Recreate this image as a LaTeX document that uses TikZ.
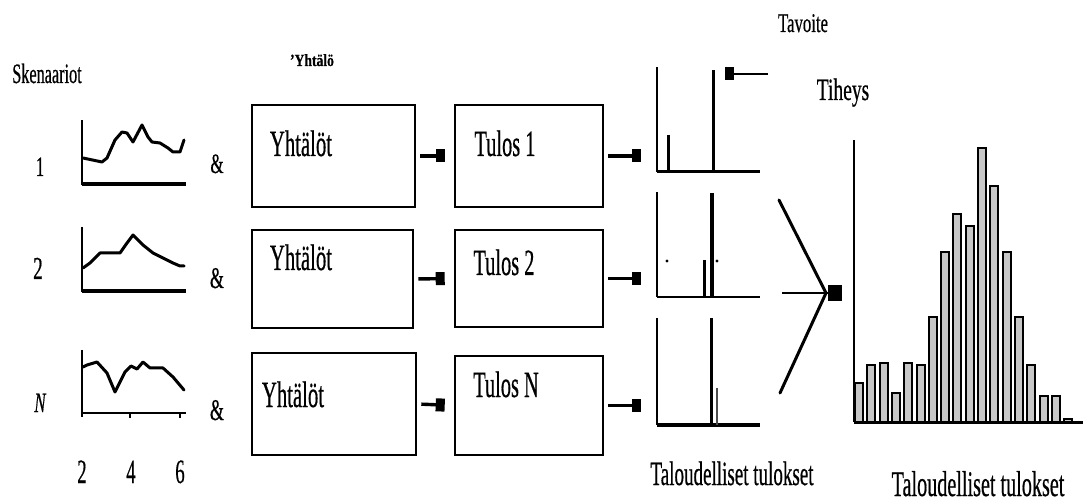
\documentclass[tikz,border=0pt]{standalone}
\usepackage{fontspec}
\setmainfont[FakeBold=0.7]{Liberation Serif}
\usepackage{graphicx}
\usetikzlibrary{arrows.meta}
% condensed text: horizontal squeeze of the serif face
\newcommand\cnd[2][0.58]{\scalebox{#1}[1]{#2}}

\begin{document}
\begin{tikzpicture}[x=1pt,y=-1pt,
  txt/.style={inner sep=0pt,anchor=base,font=\fontsize{#1}{#1}\selectfont},
  frame/.style={draw,line width=2.6pt,inner sep=0pt},
  axis/.style={line width=1.6pt},
  baseaxis/.style={line width=3.5pt},
  curve/.style={line width=3pt,line join=round,line cap=round},
  spike/.style={line width=3pt},
  blob/.style={line width=3.4pt,-{Rectangle[length=9pt 0 0,width=13pt 0 0]}},
  histbar/.style={draw,line width=2pt,fill=black!22}]

\useasboundingbox (0,0) rectangle (1084,502);

% ---- scenario labels
\node[txt=28] (sk) at (47,83) {\cnd[0.58]{Skenaariot}};
\node[txt=28] (n1) at (40,176) {\cnd[0.6]{1}};
\node[txt=32] (n2) at (38,279) {\cnd[0.6]{2}};
\node[txt=28] (nN) at (40,412) {\cnd[0.6]{\itshape N}};

% ---- scenario curves
\draw[axis] (82,120) -- (82,185);
\draw[baseaxis] (82,184) -- (186,184);
\draw[curve] (83,158) -- (102,162) -- (107,158) -- (115,140) -- (122,132) -- (127,133)
  -- (133,142) -- (142,125) -- (148,137) -- (152,142) -- (160,143) -- (168,148)
  -- (173,152) -- (180,152) -- (184,140);

\draw[axis] (82,227) -- (82,292);
\draw[baseaxis] (82,291) -- (186,291);
\draw[curve] (83,268) -- (90,263) -- (100,253) -- (107,253) -- (120,253) -- (127,243)
  -- (133,235) -- (143,245) -- (153,253) -- (163,258) -- (173,263) -- (180,266) -- (184,266);

\draw[axis] (82,350) -- (82,417);
\draw[line width=2.2pt] (82,413) -- (186,413);
\draw[line width=1.8pt] (130,413) -- (130,418) (180,413) -- (180,418);
\draw[curve] (83,367) -- (87,365) -- (97,362) -- (107,373) -- (115,392) -- (125,372)
  -- (131,366) -- (137,369) -- (143,362) -- (150,368) -- (163,368) -- (173,377) -- (184,390);

\node[txt=34] (x2) at (82,483) {\cnd[0.55]{2}};
\node[txt=34] (x4) at (131,483) {\cnd[0.55]{4}};
\node[txt=34] (x6) at (180,483) {\cnd[0.55]{6}};

% ---- ampersands
\node[txt=28] (amp1) at (217,173) {\cnd[0.6]{\&}};
\node[txt=30] (amp2) at (217,288) {\cnd[0.6]{\&}};
\node[txt=30] (amp3) at (217,420) {\cnd[0.6]{\&}};

% ---- equation and result boxes
\node[txt=17] (yt) at (312,66) {\cnd[0.8]{\bfseries 'Yhtälö}};

\node[frame,minimum width=163pt,minimum height=102pt] (y1) at (333.5,156) {};
\node[frame,minimum width=161pt,minimum height=98pt]  (y2) at (332.5,279) {};
\node[frame,minimum width=164pt,minimum height=102pt] (y3) at (334,404) {};
\node[frame,minimum width=148pt,minimum height=102pt] (t1) at (529,156) {};
\node[frame,minimum width=148pt,minimum height=97pt]  (t2) at (529,278.5) {};
\node[frame,minimum width=148pt,minimum height=99pt]  (t3) at (529,405.5) {};

\node[txt=37] (y1t) at (301,156) {\cnd[0.56]{Yhtälöt}};
\node[txt=37] (y2t) at (301,270) {\cnd[0.56]{Yhtälöt}};
\node[txt=37] (y3t) at (293,407) {\cnd[0.56]{Yhtälöt}};
\node[txt=37] (t1t) at (505,156) {\cnd[0.55]{Tulos 1}};
\node[txt=37] (t2t) at (504,275) {\cnd[0.55]{Tulos 2}};
\node[txt=37] (t3t) at (506,397) {\cnd[0.55]{Tulos N}};

\draw[blob,shorten <=4pt,shorten >=9pt] (y1.east) -- (t1.west);
\draw[blob,shorten <=4pt,shorten >=9pt] (y2.east) -- (t2.west);
\draw[blob,shorten <=4pt,shorten >=9pt] (y3.east) -- (t3.west);

% ---- result distributions
\coordinate (r1) at (641,156);
\coordinate (r2) at (641,278.5);
\coordinate (r3) at (641,405.5);
\draw[blob,shorten <=4pt] (t1.east) -- (r1);
\draw[blob,shorten <=4pt] (t2.east) -- (r2);
\draw[blob,shorten <=4pt] (t3.east) -- (r3);

\draw[axis] (657,67) -- (657,172);
\draw[line width=3pt] (657,172) -- (760,172);
\draw[spike] (668,135) -- (668,172);
\draw[spike] (713,70) -- (713,172);

\draw[axis] (657,192) -- (657,297);
\draw[line width=2.6pt] (657,297) -- (760,297);
\draw[line width=4pt] (712,193) -- (712,297);
\draw[spike] (704,260) -- (704,297);
\fill (667,261) circle (1.6pt) (717,261) circle (1.6pt);

\draw[axis] (657,318) -- (657,425);
\draw[line width=3.5pt] (657,425) -- (760,425);
\draw[spike] (711,318) -- (711,425);
\draw[line width=2.6pt,black!70] (717,388) -- (717,425);

% ---- target marker
\node[txt=27] (tav) at (803,32) {\cnd[0.62]{Tavoite}};
\coordinate (ts) at (768,74);
\coordinate (te) at (725,74);
\draw[line width=2.6pt,-{Rectangle[length=9pt 0 0,width=13pt 0 0]}] (ts) -- (te);

% ---- combining the results
\coordinate (ca) at (779,200);
\coordinate (cb) at (780,393);
\coordinate (cm) at (826,293);
\coordinate (ch) at (782,293);
\coordinate (ctip) at (842,293);
\draw[line width=3pt,line cap=round] (ca) -- (cm);
\draw[line width=3pt,line cap=round] (cb) -- (cm);
\draw[line width=2.6pt,-{Rectangle[length=14pt 0 0,width=16pt 0 0]}] (ch) -- (ctip);

% ---- density histogram
\node[txt=31] (tih) at (843,100) {\cnd[0.63]{Tiheys}};
\draw[axis] (854,140) -- (854,422);
\foreach \top [count=\i from 0] in {383,365,363,393,363,365,317,252,214,226,148,186,252,317,365,396,396,419}{
  \draw[histbar] ({855+12.3*\i},422) rectangle ({863+12.3*\i},\top);
}
\draw[line width=3pt] (854,422) -- (1083,422);

% ---- axis captions
\node[txt=34] (cap1) at (732,485) {\cnd[0.56]{Taloudelliset tulokset}};
\node[txt=36] (cap2) at (978,496) {\cnd[0.56]{Taloudelliset tulokset}};
\end{tikzpicture}
\end{document}
